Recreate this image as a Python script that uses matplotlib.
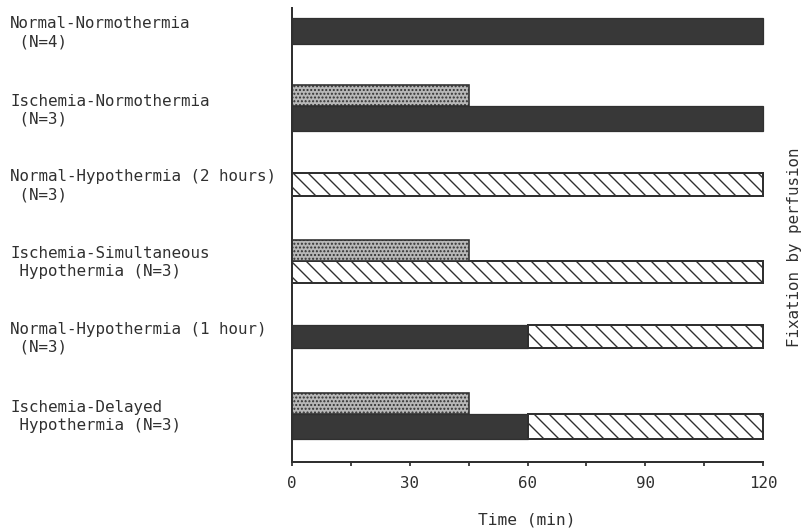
import matplotlib
matplotlib.use("Agg")
import matplotlib.pyplot as plt
import matplotlib.transforms as mtransforms

# ---- data ----
groups = [
    "Normal-Normothermia\n (N=4)",
    "Ischemia-Normothermia\n (N=3)",
    "Normal-Hypothermia (2 hours)\n (N=3)",
    "Ischemia-Simultaneous\n Hypothermia (N=3)",
    "Normal-Hypothermia (1 hour)\n (N=3)",
    "Ischemia-Delayed\n Hypothermia (N=3)",
]
ischemia_min = [0, 45, 0, 45, 0, 45]
normothermia_min = [120, 120, 0, 0, 60, 60]
hypothermia_min = [0, 0, 120, 120, 60, 60]
x_ticks = [0, 30, 60, 90, 120]
x_minor = [15, 45, 75, 105]
x_label = "Time (min)"
right_label = "Fixation by perfusion"

# ---- layout (vertical positions in axis units, top = 8, bottom = 462) ----
main_y = [31, 118.5, 184.5, 272, 336.5, 426.5]
main_h = [26, 25, 23, 22, 23, 25]
isch_h = 21
label_y = [33, 110, 186, 262.5, 338.5, 416.5]

DPI = 90
W, H = 803, 530
plt.rcParams['font.family'] = ['DejaVu Sans Mono']
plt.rcParams['hatch.linewidth'] = 1.1
plt.rcParams['hatch.color'] = '#222222'

fig = plt.figure(figsize=(W / DPI, H / DPI), dpi=DPI)
fig.patch.set_facecolor('white')
ax = fig.add_axes([292 / W, 1 - 462 / H, (763 - 292) / W, (462 - 8) / H])

ink = '#303030'
black_fill = '#383838'

for i in range(len(groups)):
    yc, h = main_y[i], main_h[i]
    n, hy, isc = normothermia_min[i], hypothermia_min[i], ischemia_min[i]
    if n > 0:
        ax.barh(yc, n, height=h, left=0, color=black_fill, edgecolor=ink,
                linewidth=1.0, clip_on=False)
    if hy > 0:
        ax.barh(yc, hy, height=h, left=n, facecolor='white', edgecolor=ink,
                hatch='\\\\', linewidth=1.6, clip_on=False)
    if isc > 0:
        top = yc - h / 2
        ax.barh(top - isch_h / 2, isc, height=isch_h, left=0, facecolor='#b8b8b8',
                edgecolor=ink, hatch='....', linewidth=1.3, clip_on=False)

ax.set_xlim(0, 120)
ax.set_ylim(462, 8)
for s in ['top', 'right']:
    ax.spines[s].set_visible(False)
for s in ['left', 'bottom']:
    ax.spines[s].set_linewidth(1.6)
    ax.spines[s].set_color(ink)
ax.set_yticks([])
ax.set_xticks(x_ticks)
ax.set_xticks(x_minor, minor=True)
ax.set_xticklabels([str(t) for t in x_ticks])
ax.tick_params(axis='x', which='both', direction='out', length=3.5, width=1.4,
               color=ink, labelsize=12.7, labelcolor=ink, pad=8)

tr = mtransforms.blended_transform_factory(fig.transFigure, ax.transData)
for lab, y in zip(groups, label_y):
    ax.text(10 / W, y, lab, transform=tr, ha='left', va='center', fontsize=12.7,
            color=ink, linespacing=1.25, clip_on=False)

fig.text(527 / W, 1 - 520 / H, x_label, ha='center', va='center', fontsize=13, color=ink)
fig.text(795 / W, 1 - 247 / H, right_label, ha='center', va='center', rotation=90,
         fontsize=12.7, color=ink)

fig.savefig('out.png', dpi=DPI, facecolor='white')
